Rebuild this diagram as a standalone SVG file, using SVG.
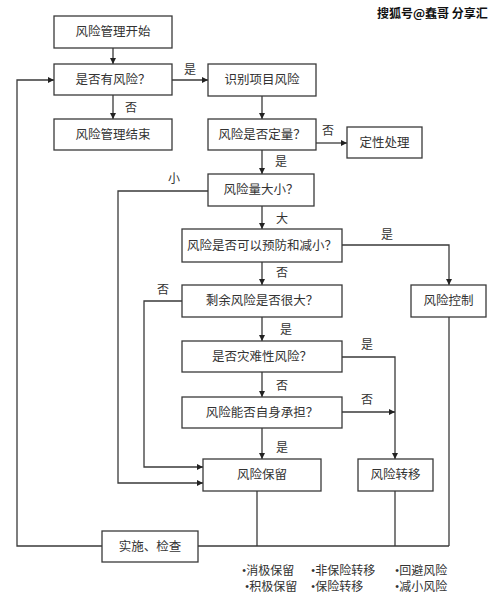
<svg xmlns="http://www.w3.org/2000/svg" width="499" height="607" viewBox="0 0 499 607">
<style>
.box{fill:#fff;stroke:#3a3a3a;stroke-width:1.3}
.t{font-family:"Liberation Serif","Noto Sans CJK SC",serif;font-size:12.5px;fill:#333;text-anchor:middle;dominant-baseline:central}
.lb{font-family:"Liberation Serif","Noto Sans CJK SC",serif;font-size:12px;fill:#333;text-anchor:middle;dominant-baseline:central}
.bt{font-family:"Liberation Serif","Noto Sans CJK SC",serif;font-size:12px;fill:#333;dominant-baseline:central}
.c{fill:none;stroke:#3a3a3a;stroke-width:1.3}
.wm{font-family:"Noto Sans CJK SC",sans-serif;font-size:12px;font-weight:bold;fill:#111}
</style>
<defs>
<marker id="a" viewBox="0 0 10 10" refX="10" refY="5" markerWidth="6" markerHeight="6" orient="auto" markerUnits="userSpaceOnUse">
<path d="M0,0 L10,5 L0,10 z" fill="#222"/>
</marker>
</defs>
<rect width="499" height="607" fill="#fff"/>
<text class="wm" x="377" y="18">搜狐号@蠢哥 分享汇</text>
<g id="connectors">
<path class="c" d="M113,48 V64" marker-end="url(#a)"/>
<path class="c" d="M113,95 V119" marker-end="url(#a)"/>
<path class="c" d="M172,80 H208" marker-end="url(#a)"/>
<path class="c" d="M262,96 V119" marker-end="url(#a)"/>
<path class="c" d="M316,143 H347" marker-end="url(#a)"/>
<path class="c" d="M262,150 V174" marker-end="url(#a)"/>
<path class="c" d="M262,206 V229" marker-end="url(#a)"/>
<path class="c" d="M342,245 H449 V285" marker-end="url(#a)"/>
<path class="c" d="M262,262 V285" marker-end="url(#a)"/>
<path class="c" d="M262,317 V341" marker-end="url(#a)"/>
<path class="c" d="M342,357 H395 V459" marker-end="url(#a)"/>
<path class="c" d="M262,372 V397" marker-end="url(#a)"/>
<path class="c" d="M342,412 H395" marker-end="url(#a)"/>
<path class="c" d="M262,428 V459" marker-end="url(#a)"/>
<path class="c" d="M208,191 H118 V483 H203" marker-end="url(#a)"/>
<path class="c" d="M182,301 H144 V467 H203" marker-end="url(#a)"/>
<path class="c" d="M257,491 V546"/>
<path class="c" d="M395,491 V546"/>
<path class="c" d="M449,317 V546"/>
<path class="c" d="M198,546 H449"/>
<path class="c" d="M102,546 H17 V80 H54" marker-end="url(#a)"/>
<text class="lb" x="190" y="70">是</text>
<text class="lb" x="131" y="108">否</text>
<text class="lb" x="328" y="131">否</text>
<text class="lb" x="281" y="162">是</text>
<text class="lb" x="174" y="179">小</text>
<text class="lb" x="282" y="219">大</text>
<text class="lb" x="387" y="235">是</text>
<text class="lb" x="282" y="273">否</text>
<text class="lb" x="163" y="290">否</text>
<text class="lb" x="286" y="330">是</text>
<text class="lb" x="367" y="345">是</text>
<text class="lb" x="282" y="386">否</text>
<text class="lb" x="367" y="400">否</text>
<text class="lb" x="282" y="448">是</text>
</g>
<g id="start"><rect class="box" x="54" y="16" width="118" height="32"/><text class="t" x="113" y="32">风险管理开始</text></g>
<g id="hasRisk"><rect class="box" x="54" y="64" width="118" height="31"/><text class="t" x="113" y="80">是否有风险？</text></g>
<g id="end"><rect class="box" x="54" y="119" width="118" height="31"/><text class="t" x="113" y="135">风险管理结束</text></g>
<g id="identify"><rect class="box" x="208" y="64" width="108" height="32"/><text class="t" x="262" y="80">识别项目风险</text></g>
<g id="quant"><rect class="box" x="208" y="119" width="108" height="31"/><text class="t" x="262" y="135">风险是否定量？</text></g>
<g id="qual"><rect class="box" x="347" y="127" width="75" height="31"/><text class="t" x="384.5" y="143">定性处理</text></g>
<g id="size"><rect class="box" x="208" y="174" width="106" height="32"/><text class="t" x="261" y="190">风险量大小？</text></g>
<g id="prevent"><rect class="box" x="182" y="229" width="160" height="33"/><text class="t" x="262" y="245.5">风险是否可以预防和减小？</text></g>
<g id="residual"><rect class="box" x="182" y="285" width="160" height="32"/><text class="t" x="262" y="301">剩余风险是否很大？</text></g>
<g id="control"><rect class="box" x="411" y="285" width="75" height="32"/><text class="t" x="448.5" y="301">风险控制</text></g>
<g id="disaster"><rect class="box" x="182" y="341" width="160" height="31"/><text class="t" x="262" y="357">是否灾难性风险？</text></g>
<g id="bear"><rect class="box" x="182" y="397" width="160" height="31"/><text class="t" x="262" y="413">风险能否自身承担？</text></g>
<g id="retain"><rect class="box" x="203" y="459" width="118" height="32"/><text class="t" x="262" y="475">风险保留</text></g>
<g id="transfer"><rect class="box" x="358" y="459" width="75" height="32"/><text class="t" x="395.5" y="475">风险转移</text></g>
<g id="implement"><rect class="box" x="102" y="531" width="96" height="31"/><text class="t" x="150" y="546.5">实施、检查</text></g>
<g id="notes">
<text class="bt" x="242" y="571">•消极保留</text>
<text class="bt" x="245" y="587">•积极保留</text>
<text class="bt" x="311" y="571">•非保险转移</text>
<text class="bt" x="311" y="587">•保险转移</text>
<text class="bt" x="395" y="571">•回避风险</text>
<text class="bt" x="395" y="587">•减小风险</text>
</g>
</svg>
